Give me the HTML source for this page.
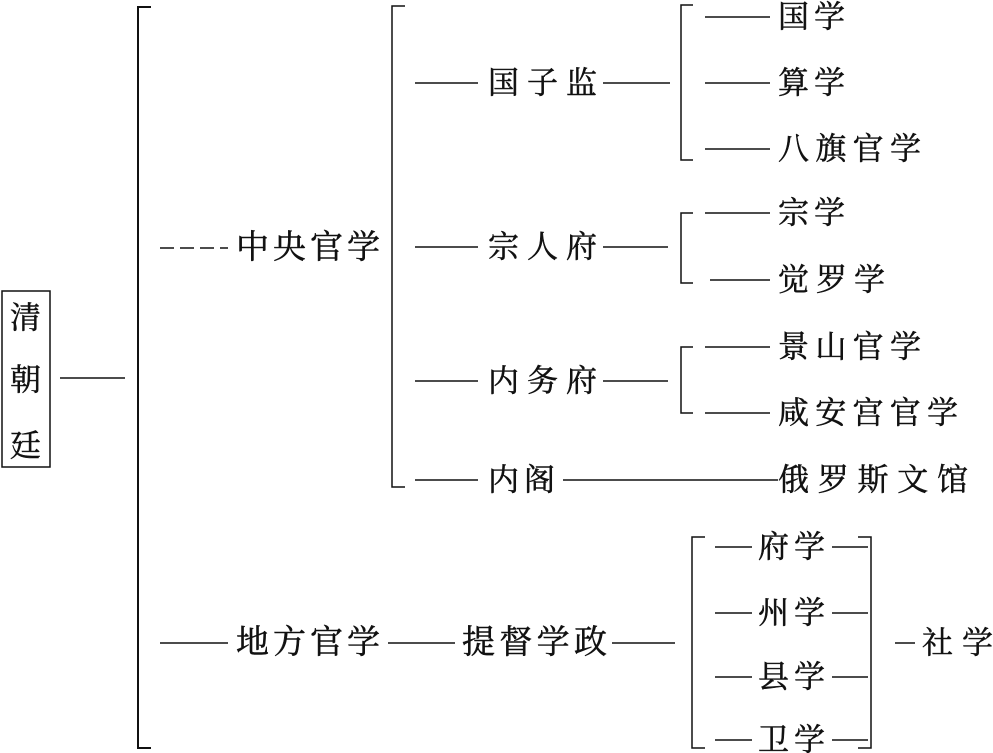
<!DOCTYPE html>
<html><head><meta charset="utf-8"><style>
html,body{margin:0;padding:0;background:#fff;}
svg{display:block;}
text{font-family:"Liberation Serif","Noto Serif CJK SC",serif;font-size:31px;fill:#111;stroke:#111;stroke-width:0.5;dominant-baseline:central;}
</style></head><body>
<svg width="993" height="753" viewBox="0 0 993 753" xmlns="http://www.w3.org/2000/svg">
<g stroke="#111" stroke-width="1.5" fill="none">
<rect x="2" y="291" width="48" height="176"/>
<line x1="60" y1="378" x2="125" y2="378"/>
<polyline points="151,7 138,7 138,748 151,748" stroke-width="2"/>
<line x1="160" y1="248" x2="228" y2="248" stroke-dasharray="14,6"/>
<line x1="160" y1="643" x2="228" y2="643"/>
<polyline points="405,6 392,6 392,487 405,487"/>
<line x1="415" y1="83" x2="478" y2="83"/>
<line x1="603" y1="83" x2="670" y2="83"/>
<line x1="415" y1="247" x2="478" y2="247"/>
<line x1="603" y1="247" x2="668" y2="247"/>
<line x1="415" y1="381" x2="478" y2="381"/>
<line x1="603" y1="381" x2="668" y2="381"/>
<line x1="415" y1="480" x2="478" y2="480"/>
<line x1="563" y1="480" x2="778" y2="480"/>
<polyline points="693,5 681,5 681,160 693,160"/>
<line x1="705" y1="17" x2="770" y2="17"/>
<line x1="705" y1="83" x2="770" y2="83"/>
<line x1="705" y1="149" x2="770" y2="149"/>
<polyline points="693,213 681,213 681,283 693,283"/>
<line x1="705" y1="213" x2="770" y2="213"/>
<line x1="710" y1="280" x2="770" y2="280"/>
<polyline points="693,347 681,347 681,413 693,413"/>
<line x1="705" y1="347" x2="770" y2="347"/>
<line x1="705" y1="413" x2="770" y2="413"/>
<line x1="388" y1="643" x2="455" y2="643"/>
<line x1="612" y1="643" x2="675" y2="643"/>
<polyline points="705,537 692,537 692,748 705,748"/>
<polyline points="858,537 871,537 871,748 858,748"/>
<line x1="715" y1="547" x2="752" y2="547"/><line x1="832" y1="547" x2="868" y2="547"/>
<line x1="715" y1="613" x2="752" y2="613"/><line x1="832" y1="613" x2="868" y2="613"/>
<line x1="715" y1="677" x2="752" y2="677"/><line x1="832" y1="677" x2="868" y2="677"/>
<line x1="715" y1="740" x2="752" y2="740"/><line x1="832" y1="740" x2="868" y2="740"/>
<line x1="895" y1="643" x2="915" y2="643"/>
</g>
<text x="10" y="318">清</text>
<text x="10" y="380">朝</text>
<text x="10" y="446">廷</text>
<text x="236" y="248" textLength="144" lengthAdjust="spacing" style="font-size:33px">中央官学</text>
<text x="236" y="643" textLength="144" lengthAdjust="spacing" style="font-size:33px">地方官学</text>
<text x="488" y="83" textLength="109" lengthAdjust="spacing">国子监</text>
<text x="488" y="247" textLength="109" lengthAdjust="spacing">宗人府</text>
<text x="488" y="381" textLength="109" lengthAdjust="spacing">内务府</text>
<text x="488" y="480" textLength="67" lengthAdjust="spacing">内阁</text>
<text x="778" y="480" textLength="190" lengthAdjust="spacing">俄罗斯文馆</text>
<text x="778" y="17" textLength="67" lengthAdjust="spacing">国学</text>
<text x="778" y="83" textLength="67" lengthAdjust="spacing">算学</text>
<text x="778" y="149" textLength="143" lengthAdjust="spacing">八旗官学</text>
<text x="778" y="213" textLength="67" lengthAdjust="spacing">宗学</text>
<text x="778" y="280" textLength="107" lengthAdjust="spacing">觉罗学</text>
<text x="778" y="347" textLength="143" lengthAdjust="spacing">景山官学</text>
<text x="778" y="413" textLength="180" lengthAdjust="spacing">咸安宫官学</text>
<text x="462" y="643" textLength="145" lengthAdjust="spacing" style="font-size:33px">提督学政</text>
<text x="758" y="547" textLength="67" lengthAdjust="spacing">府学</text>
<text x="758" y="613" textLength="67" lengthAdjust="spacing">州学</text>
<text x="758" y="677" textLength="67" lengthAdjust="spacing">县学</text>
<text x="758" y="740" textLength="67" lengthAdjust="spacing">卫学</text>
<text x="922" y="643" textLength="71" lengthAdjust="spacing">社学</text>
</svg>
</body></html>
